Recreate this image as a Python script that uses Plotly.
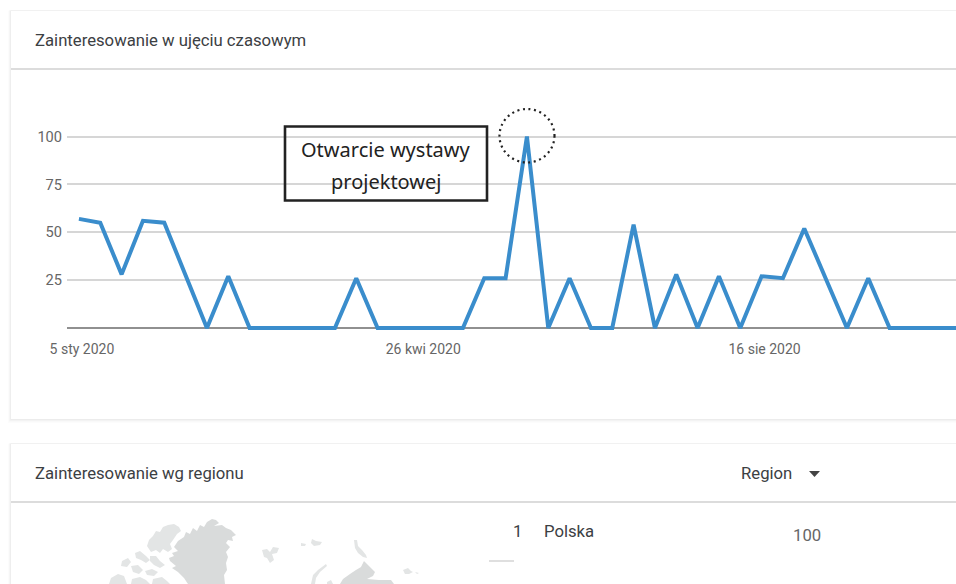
import plotly.graph_objects as go
import pandas as pd

# ---- data ----
start_date = "2020-01-05"
interest = [57, 55, 28, 56, 55, 28, 0, 27, 0, 0, 0, 0, 0, 26, 0, 0, 0, 0, 0, 26, 26,
            100, 0, 26, 0, 0, 54, 0, 28, 0, 27, 0, 27, 26, 52, 26, 0, 26, 0, 0, 0, 0, 0]
y_ticks = [25, 50, 75, 100]
x_tick_dates = ["2020-01-05", "2020-04-26", "2020-08-16"]
x_tick_labels = ["5 sty 2020", "26 kwi 2020", "16 sie 2020"]
card1_title = "Zainteresowanie w ujęciu czasowym"
card2_title = "Zainteresowanie wg regionu"
note_lines = ["Otwarcie wystawy", "projektowej"]
region_rank, region_name, region_value = "1", "Polska", "100"

# decorative grey map fragments at the bottom of the page (page pixels)
map_solid = [
    # Greenland
    [(178,541),(184,537),(186,532),(190,534),(193,528),(197,531),(200,525),(204,527),(207,522),(212,519),(216,520),(219,523),(214,526),(222,525),(226,528),(231,530),(236,535),(232,537),(233,541),(228,540),(226,543),(230,547),(226,552),(228,557),(226,563),(227,570),(224,575),(225,584),(188,584),(184,578),(178,572),(172,568),(176,566),(170,561),(169,558),(174,556),(172,553),(178,551),(174,547)],
    # North Eurasia
    [(340,584),(343,579),(350,574),(356,570),(361,567),(364,561),(369,566),(375,572),(373,576),(367,579),(379,580),(391,580),(394,584)],
]
map_faint = [
    # Ellesmere
    [(147,546),(149,540),(153,536),(156,531),(160,532),(163,527),(168,525),(174,524),(179,527),(181,531),(177,534),(173,540),(170,544),(172,549),(168,552),(163,549),(160,553),(156,550),(151,552)],
    # Arctic islands
    [(135,553),(140,551),(146,556),(150,560),(146,563),(141,560),(136,558)],
    [(150,556),(156,556),(160,561),(165,565),(160,568),(154,565),(150,561)],
    [(122,561),(128,558),(131,562),(127,567),(121,566)],
    [(131,566),(138,565),(143,570),(139,574),(133,572)],
    [(145,571),(152,569),(158,572),(154,576),(147,575)],
    [(111,578),(118,574),(124,576),(127,584),(109,584)],
    [(132,579),(140,577),(146,580),(150,584),(131,584)],
    [(153,579),(162,577),(167,581),(170,584),(152,584)],
    # Svalbard and neighbours
    [(262,550),(267,549),(270,552),(273,547),(279,548),(277,553),(272,554),(274,560),(270,563),(267,558),(264,557)],
    [(354,540),(357,540),(358,546),(362,550),(366,555),(367,558),(363,557),(358,553),(355,548)],
    [(301,543),(306,544),(305,546),(301,546)],
    [(312,539),(316,541),(322,542),(320,545),(314,546),(311,543)],
    [(311,584),(313,575),(318,570),(326,564),(327,566),(320,572),(316,578),(315,584)],
    [(403,570),(408,568),(411,571),(413,572),(409,574),(405,574)],
    [(415,572),(419,573),(417,574)],
    [(327,582),(331,580),(333,584),(327,584)],
]

W, H = 956, 584
PLOT_L, PLOT_T, PLOT_B = 67, 120, 338
fx = lambda p: p / W
fy = lambda p: 1 - p / H

dates = pd.date_range(start_date, periods=len(interest), freq="7D")

fig = go.Figure(go.Scatter(x=dates, y=interest, mode="lines",
                           line=dict(color="#3a8dcc", width=4), hoverinfo="skip"))

def rect(x0, y0, x1, y1, **kw):
    return dict(type="rect", xref="paper", yref="paper", x0=fx(x0), x1=fx(x1),
                y0=fy(y0), y1=fy(y1), **kw)

def hline(x0, x1, y, color, width):
    return dict(type="line", xref="paper", yref="paper", x0=fx(x0), x1=fx(x1),
                y0=fy(y), y1=fy(y), line=dict(color=color, width=width), layer="below")

shapes = []
# card shadows, drawn as stacked soft rectangles
for (top, bot) in [(11, 419), (444, 640)]:
    for grow, col in [(4, "#fcfcfc"), (3, "#f9f9f9"), (2, "#f3f3f3"), (1, "#ececec")]:
        shapes.append(rect(11 - grow * 0.7, top - 0.5, 980, bot + grow, fillcolor=col,
                           line_width=0, layer="below"))
    shapes.append(rect(11, top, 980, bot, fillcolor="#ffffff", line_width=0, layer="below"))
shapes.append(hline(11, 956, 69, "#dcdcdc", 2))
shapes.append(hline(11, 956, 502, "#dcdcdc", 2))
shapes.append(hline(489, 514, 561, "#d4d4d4", 1.5))

for parts, colour in [(map_solid, "#d9dbdb"), (map_faint, "#e3e5e5")]:
    for part in parts:
        path = "M" + "L".join(f"{fx(x):.5f},{fy(y):.5f}" for x, y in part) + "Z"
        shapes.append(dict(type="path", xref="paper", yref="paper", path=path,
                           fillcolor=colour, line_width=0, layer="below"))

# annotation box and dotted circle
shapes.append(rect(285, 126.5, 487, 200.5, line=dict(color="#222222", width=2.6),
                   fillcolor="rgba(0,0,0,0)", layer="above"))
shapes.append(dict(type="circle", xref="paper", yref="paper", x0=fx(499.5), x1=fx(554.5),
                   y0=fy(109), y1=fy(162.5),
                   line=dict(color="#222222", width=2.2, dash="2px,3.6px"), layer="above"))
# dropdown arrow
shapes.append(dict(type="path", xref="paper", yref="paper",
                   path=f"M{fx(809):.5f},{fy(471):.5f}L{fx(820):.5f},{fy(471):.5f}L{fx(814.5):.5f},{fy(477):.5f}Z",
                   fillcolor="#444444", line_width=0))

def txt(x, y, s, size, color, anchor="left", family="Roboto"):
    shift = {"left": -2, "right": 2, "center": 0}[anchor]
    return dict(x=fx(x), y=fy(y), xref="paper", yref="paper", text=s, showarrow=False, xshift=shift,
                xanchor=anchor, yanchor="middle", font=dict(size=size, color=color, family=family))

annotations = [
    txt(35, 40, card1_title, 16.7, "#3c4043"),
    txt(35, 473, card2_title, 16.7, "#3c4043"),
    txt(741, 473, "Region", 16.7, "#3c4043"),
    txt(522, 531, region_rank, 16.7, "#3c4043", "right"),
    txt(544, 531, region_name, 16.7, "#3c4043"),
    txt(821, 535, region_value, 16.7, "#666666", "right"),
    txt(386, 149, note_lines[0], 20, "#222222", "center", "Noto Sans"),
    txt(386, 181, note_lines[1], 20, "#222222", "center", "Noto Sans"),
]

v_per_px = 100 / (328 - 136.5)
fig.update_layout(
    width=W, height=H, margin=dict(l=0, r=0, t=0, b=0, autoexpand=False),
    paper_bgcolor="#ffffff", plot_bgcolor="rgba(0,0,0,0)", showlegend=False,
    shapes=shapes, annotations=annotations,
    xaxis=dict(domain=[fx(PLOT_L), 1], type="date",
               range=["2020-01-01 02:00", "2020-10-18 19:00"],
               tickmode="array", tickvals=x_tick_dates, ticktext=x_tick_labels,
               showgrid=False, zeroline=False, showline=False, ticks="",
               tickfont=dict(family="Roboto", size=14, color="#666666"),
               ticklabelstandoff=1, ticklabelshift=3),
    yaxis=dict(domain=[fy(PLOT_B), fy(PLOT_T)],
               range=[-(PLOT_B - 328) * v_per_px, (328 - PLOT_T) * v_per_px],
               tickmode="array", tickvals=y_ticks, ticktext=[str(t) for t in y_ticks],
               showgrid=True, gridcolor="#d6d6d6", gridwidth=1.5,
               zeroline=True, zerolinecolor="#909090", zerolinewidth=2, showline=False,
               ticks="", ticklabelstandoff=4,
               tickfont=dict(family="Roboto", size=14.6, color="#666666")),
)

# page chrome only: the figure fills the window without a margin or scrollbars
page_reset = ("document.body.style.margin='0';"
              "document.documentElement.style.overflow='hidden';"
              "document.body.style.overflow='hidden';")
fig.write_html("out.html", post_script=page_reset, config={"displayModeBar": False})
